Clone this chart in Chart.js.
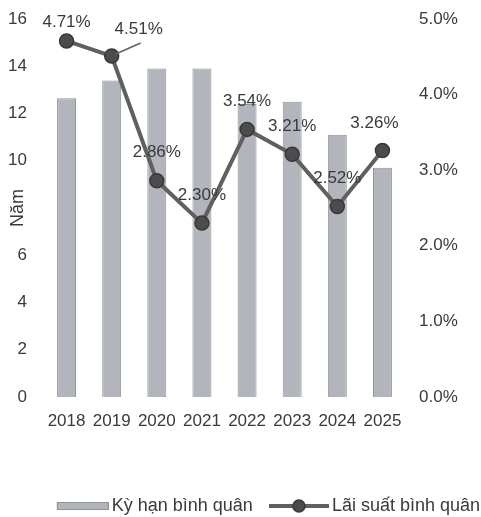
<!DOCTYPE html>
<html>
<head>
<meta charset="utf-8">
<script src="https://cdn.jsdelivr.net/npm/chart.js@4/dist/chart.umd.min.js"></script>
<style>
  html, body { margin: 0; padding: 0; background: #ffffff; }
  #wrap { width: 481px; height: 517px; position: relative; }
</style>
</head>
<body>
<div id="wrap"><canvas id="chart"></canvas></div>
<script>
// Years on the category axis
const years = ['2018', '2019', '2020', '2021', '2022', '2023', '2024', '2025'];
// Average term (years) – bars, left axis
const avgTerm = [12.65, 13.4, 13.9, 13.9, 12.4, 12.5, 11.1, 9.7];
// Average interest rate (%) – line, right axis
const avgRate = [4.71, 4.51, 2.86, 2.30, 3.54, 3.21, 2.52, 3.26];
// Axis tick values
const termTicks = [0, 2, 4, 6, 8, 10, 12, 14, 16];
const rateTicks = [0, 1, 2, 3, 4, 5];
// Series names and axis title
const seriesNames = ['Kỳ hạn bình quân', 'Lãi suất bình quân'];
const termAxisTitle = 'Năm';

const FONT = "'Liberation Sans', Arial, sans-serif";
const TEXT = '#3a3a3a';
const BAR_FILL = '#b2b6bc';
const BAR_EDGE = '#8e9298';
const LINE_COLOR = '#606060';
const POINT_FILL = '#4c4c4c';
const POINT_EDGE = '#383838';

// Legend swatches drawn into small canvases
function barSwatch() {
  const c = document.createElement('canvas');
  c.width = 60; c.height = 8;
  const g = c.getContext('2d');
  g.fillStyle = BAR_FILL; g.fillRect(8, 0, 52, 8);
  g.strokeStyle = BAR_EDGE; g.lineWidth = 1; g.strokeRect(8.5, 0.5, 51, 7);
  return c;
}
function lineSwatch() {
  const c = document.createElement('canvas');
  c.width = 60; c.height = 16;
  const g = c.getContext('2d');
  g.strokeStyle = LINE_COLOR; g.lineWidth = 4;
  g.beginPath(); g.moveTo(0, 8); g.lineTo(60, 8); g.stroke();
  g.fillStyle = POINT_FILL; g.strokeStyle = POINT_EDGE; g.lineWidth = 1.5;
  g.beginPath(); g.arc(30, 8, 6, 0, Math.PI * 2); g.fill(); g.stroke();
  return c;
}
const swatches = [barSwatch(), lineSwatch()];

// Percent labels above the rate points
const rateLabels = {
  id: 'rateLabels',
  afterDatasetsDraw(chart, args, opts) {
    const meta = chart.getDatasetMeta(1);
    const ctx = chart.ctx;
    ctx.save();
    ctx.font = '17px ' + FONT;
    ctx.fillStyle = TEXT;
    ctx.textAlign = 'center';
    ctx.textBaseline = 'middle';
    meta.data.forEach((pt, i) => {
      const off = opts.offsets[i] || opts.offsets.default;
      const dx = off[0], dy = off[1];
      if (off[2]) {
        ctx.strokeStyle = LINE_COLOR; ctx.lineWidth = 1.5;
        ctx.beginPath();
        ctx.moveTo(pt.x + 4, pt.y - 2);
        ctx.lineTo(pt.x + dx + 2, pt.y + dy + 14);
        ctx.stroke();
      }
      ctx.fillText(avgRate[i].toFixed(2) + '%', pt.x + dx, pt.y + dy);
    });
    ctx.restore();
  }
};

// Rotated title for the term axis
const termTitle = {
  id: 'termTitle',
  afterDraw(chart) {
    const y = chart.scales.y.getPixelForValue(8);
    const ctx = chart.ctx;
    ctx.save();
    ctx.translate(18, y);
    ctx.rotate(-Math.PI / 2);
    ctx.font = '18px ' + FONT;
    const w = ctx.measureText(termAxisTitle).width;
    ctx.fillStyle = '#ffffff';
    ctx.fillRect(-w / 2 - 2, -11, w + 4, 22);
    ctx.fillStyle = TEXT;
    ctx.textAlign = 'center';
    ctx.textBaseline = 'middle';
    ctx.fillText(termAxisTitle, 0, 0);
    ctx.restore();
  }
};

// Vertical axes: fixed width, no extra overflow padding above/below
function fixVertical(width) {
  return s => {
    s.width = width;
    s.paddingTop = 0;
    s.paddingBottom = 0;
  };
}

new Chart(document.getElementById('chart'), {
  data: {
    labels: years,
    datasets: [
      {
        type: 'bar',
        label: seriesNames[0],
        data: avgTerm,
        yAxisID: 'y',
        backgroundColor: BAR_FILL,
        borderColor: BAR_EDGE,
        borderWidth: 1,
        barPercentage: 0.84,
        categoryPercentage: 0.5,
        order: 2
      },
      {
        type: 'line',
        label: seriesNames[1],
        data: avgRate,
        yAxisID: 'y1',
        borderColor: LINE_COLOR,
        borderWidth: 4,
        pointRadius: 7,
        pointBackgroundColor: POINT_FILL,
        pointBorderColor: POINT_EDGE,
        pointBorderWidth: 1.5,
        tension: 0,
        order: 1
      }
    ]
  },
  options: {
    responsive: true,
    maintainAspectRatio: false,
    animation: false,
    layout: { padding: { top: 19, left: 0, right: -21, bottom: -8 } },
    plugins: {
      tooltip: { enabled: false },
      legend: {
        position: 'bottom',
        align: 'end',
        labels: {
          usePointStyle: true,
          pointStyleWidth: 48,
          boxHeight: 18,
          padding: 22,
          color: TEXT,
          font: { family: FONT, size: 18 },
          sort: (a, b) => a.datasetIndex - b.datasetIndex,
          generateLabels(chart) {
            const items = Chart.defaults.plugins.legend.labels.generateLabels(chart);
            items.forEach(it => { it.pointStyle = swatches[it.datasetIndex]; });
            return items;
          }
        }
      },
      rateLabels: {
        offsets: {
          default: [0, -28],
          0: [0, -19],
          1: [27, -27, true],
          7: [-8, -27]
        }
      }
    },
    scales: {
      x: {
        grid: { display: false, drawTicks: false },
        border: { display: false },
        ticks: {
          color: TEXT,
          font: { family: FONT, size: 17 },
          padding: 14,
          maxRotation: 0,
          autoSkip: false
        },
        afterFit(s) { s.height = 78; s.paddingLeft = 0; s.paddingRight = 0; }
      },
      y: {
        position: 'left',
        min: 0, max: 16,
        afterBuildTicks(s) { s.ticks = termTicks.map(v => ({ value: v })); },
        grid: { display: false, drawTicks: false },
        border: { display: false },
        ticks: { color: TEXT, font: { family: FONT, size: 17 }, padding: 17 },
        afterFit: fixVertical(44)
      },
      y1: {
        position: 'right',
        min: 0, max: 5,
        afterBuildTicks(s) { s.ticks = rateTicks.map(v => ({ value: v })); },
        grid: { display: false, drawTicks: false },
        border: { display: false },
        ticks: {
          color: TEXT,
          font: { family: FONT, size: 17 },
          padding: 14,
          callback: v => Number(v).toFixed(1) + '%'
        },
        afterFit: fixVertical(97)
      }
    }
  },
  plugins: [rateLabels, termTitle]
});
</script>
</body>
</html>
